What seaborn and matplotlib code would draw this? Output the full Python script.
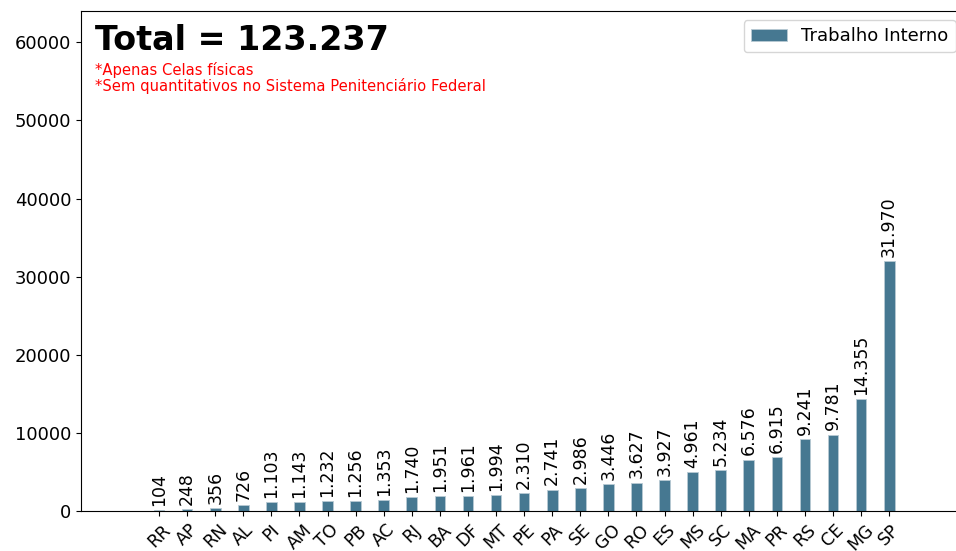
import numpy as np
import pandas as pd
import matplotlib
matplotlib.use('Agg')
import matplotlib.pyplot as plt
import seaborn as sns

# Data
estados = ['RR', 'AP', 'RN', 'AL', 'PI', 'AM', 'TO', 'PB', 'AC', 'RJ', 'BA', 'DF', 'MT',
           'PE', 'PA', 'SE', 'GO', 'RO', 'ES', 'MS', 'SC', 'MA', 'PR', 'RS', 'CE', 'MG', 'SP']
trabalho_interno = [104, 248, 356, 726, 1103, 1143, 1232, 1256, 1353, 1740, 1951, 1961, 1994,
                    2310, 2741, 2986, 3446, 3627, 3927, 4961, 5234, 6576, 6915, 9241, 9781,
                    14355, 31970]
yticks = [0, 10000, 20000, 30000, 40000, 50000, 60000]

df = pd.DataFrame({'UF': estados, 'Trabalho Interno': trabalho_interno})
total = sum(trabalho_interno)

def fmt_br(v):
    return f"{v:,}".replace(',', '.')

plt.rcParams['font.family'] = ['DejaVu Sans']

fig = plt.figure(figsize=(9.56, 5.51), dpi=100)
# axes runs a little past the right edge, like the cropped original
ax = fig.add_axes([0.0847, 0.0726, 0.9247, 0.9074])

sns.barplot(data=df, x='UF', y='Trabalho Interno', color='#467891', saturation=1,
            width=0.38, edgecolor='#b8cad4', linewidth=0.6,
            label='Trabalho Interno', ax=ax)

for c in ax.containers:
    ax.bar_label(c, labels=[fmt_br(v) for v in trabalho_interno], rotation=90,
                 padding=3, fontsize=12.5)

ax.set_xlim(-2.78, 28.7)
ax.set_ylim(0, 64000)
ax.set_yticks(yticks)
ax.tick_params(axis='y', labelsize=13)
ax.tick_params(axis='x', labelsize=12.5, rotation=45)
ax.set_xlabel('')
ax.set_ylabel('')

ax.text(0.016, 0.975, f"Total = {fmt_br(total)}", transform=ax.transAxes,
        fontsize=24, fontweight='bold', va='top', ha='left')
ax.text(0.016, 0.898, "*Apenas Celas físicas\n*Sem quantitativos no Sistema Penitenciário Federal",
        transform=ax.transAxes, fontsize=10.6, color='red', va='top', ha='left', linespacing=1.0)

ax.legend(loc='upper right', fontsize=13)

fig.savefig('out.png', dpi=100)
